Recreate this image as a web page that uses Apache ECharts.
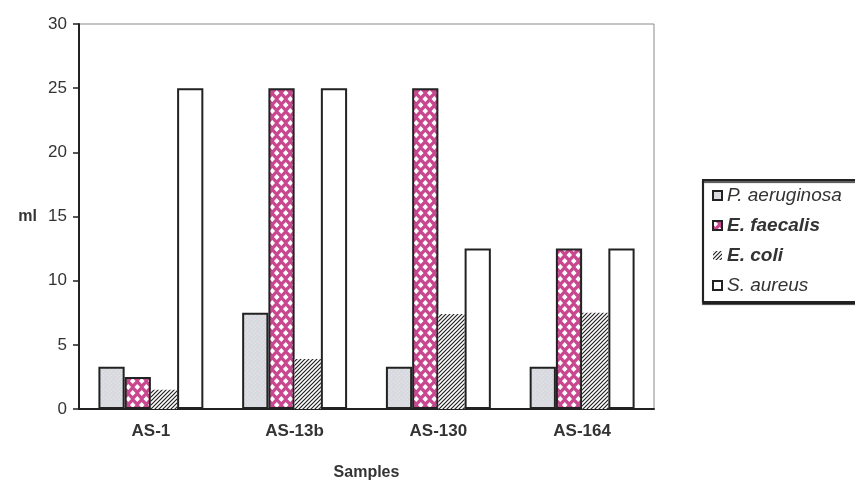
<!DOCTYPE html>
<html>
<head>
<meta charset="utf-8">
<script src="https://cdn.jsdelivr.net/npm/echarts@6/dist/echarts.min.js"></script>
<style>
  html, body { margin: 0; padding: 0; background: #fff; }
  #chart { width: 855px; height: 486px; }
</style>
</head>
<body>
<div id="chart"></div>
<script>
// data
var samples = ['AS-1', 'AS-13b', 'AS-130', 'AS-164'];
var seriesNames = ['P. aeruginosa', 'E. faecalis', 'E. coli', 'S. aureus'];
var pAeruginosa = [3.3, 7.5, 3.3, 3.3];
var eFaecalis = [2.5, 25, 25, 12.5];
var eColi = [1.5, 3.9, 7.4, 7.5];
var sAureus = [25, 25, 12.5, 12.5];
var yTicks = [0, 5, 10, 15, 20, 25, 30];

// fill patterns
function tile(w, h, draw) {
  var c = document.createElement('canvas');
  c.width = w; c.height = h;
  draw(c.getContext('2d'));
  return c;
}
var grayTile = tile(4, 4, function (g) {
  g.fillStyle = '#d9dadf'; g.fillRect(0, 0, 4, 4);
  g.fillStyle = '#e4e5e8'; g.fillRect(1, 1, 1, 1); g.fillRect(3, 3, 1, 1);
});
var dotTile = tile(9, 12, function (g) {
  g.fillStyle = '#c8488f'; g.fillRect(0, 0, 9, 12);
  g.fillStyle = '#ffffff';
  function diamond(x, y) {
    g.beginPath();
    g.moveTo(x, y - 3); g.lineTo(x + 2.8, y); g.lineTo(x, y + 3); g.lineTo(x - 2.8, y);
    g.closePath(); g.fill();
  }
  diamond(2.25, 3); diamond(6.75, 9); diamond(11.25, 3); diamond(-2.25, 9);
  diamond(2.25, 15); diamond(6.75, -3);
});
var hatchTile = tile(4, 4, function (g) {
  g.fillStyle = '#ffffff'; g.fillRect(0, 0, 4, 4);
  g.strokeStyle = '#222'; g.lineWidth = 1.2;
  g.beginPath();
  g.moveTo(0, 4); g.lineTo(4, 0);
  g.moveTo(-1, 1); g.lineTo(1, -1);
  g.moveTo(3, 5); g.lineTo(5, 3);
  g.stroke();
});

var fills = [
  { image: grayTile, repeat: 'repeat' },
  { image: dotTile, repeat: 'repeat' },
  { image: hatchTile, repeat: 'repeat' },
  '#ffffff'
];
var values = [pAeruginosa, eFaecalis, eColi, sAureus];

var chart = echarts.init(document.getElementById('chart'));

var series = seriesNames.map(function (name, i) {
  return {
    name: name,
    type: 'bar',
    data: values[i],
    barGap: '0%',
    barCategoryGap: '27%',
    itemStyle: {
      color: fills[i],
      borderColor: '#222',
      borderWidth: i === 2 ? 0 : 2
    }
  };
});

chart.setOption({
  animation: false,
  textStyle: { fontFamily: 'Liberation Sans, Arial, sans-serif' },
  grid: {
    left: 79, right: 201, top: 24, bottom: 64,
    show: true, borderColor: '#8a8a8a', borderWidth: 1
  },
  legend: {
    orient: 'vertical',
    left: 703, top: 180,
    data: seriesNames,
    icon: 'rect',
    itemWidth: 9, itemHeight: 9,
    itemGap: 11,
    padding: [6, 80, 7, 9],
    backgroundColor: '#fff',
    borderColor: '#222', borderWidth: 2,
    shadowColor: 'rgba(0,0,0,0.7)', shadowOffsetY: 2, shadowOffsetX: 0, shadowBlur: 1,
    formatter: function (n) {
      return (n === 'E. faecalis' || n === 'E. coli') ? '{b|' + n + '}' : '{a|' + n + '}';
    },
    textStyle: {
      rich: {
        a: { fontSize: 19, fontStyle: 'italic', color: '#333' },
        b: { fontSize: 19, fontStyle: 'italic', fontWeight: 'bold', color: '#333' }
      }
    }
  },
  xAxis: {
    type: 'category',
    data: samples,
    name: 'Samples',
    nameLocation: 'middle',
    nameGap: 56,
    nameTextStyle: { fontSize: 16, fontWeight: 'bold', color: '#333' },
    axisLine: { lineStyle: { color: '#222', width: 2 } },
    axisTick: { length: 5, lineStyle: { color: '#222', width: 1.5 } },
    axisLabel: { fontSize: 17, fontWeight: 'bold', color: '#333', margin: 14 }
  },
  yAxis: {
    type: 'value',
    min: yTicks[0], max: yTicks[yTicks.length - 1], interval: 5,
    name: 'ml',
    nameLocation: 'middle',
    nameRotate: 0,
    nameGap: 42,
    nameTextStyle: { fontSize: 16, fontWeight: 'bold', color: '#333' },
    axisLine: { show: true, lineStyle: { color: '#222', width: 2 } },
    axisTick: { show: true, length: 6, lineStyle: { color: '#222', width: 1.5 } },
    splitLine: { show: false },
    axisLabel: { fontSize: 17, color: '#333', margin: 12 }
  },
  series: series
});
</script>
</body>
</html>
